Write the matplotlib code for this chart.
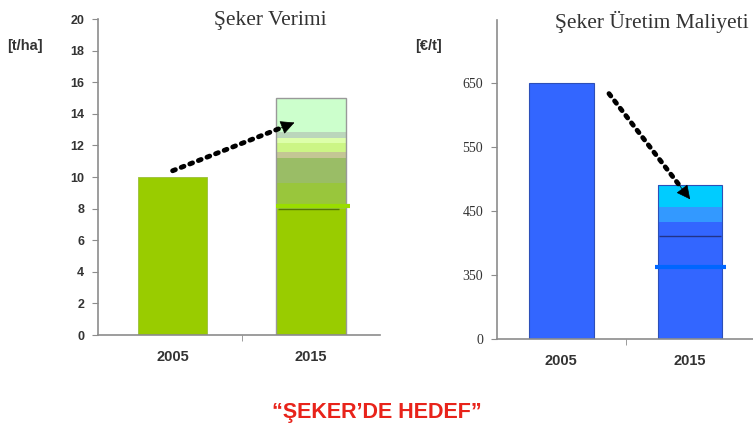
import numpy as np
import matplotlib
import matplotlib.pyplot as plt

matplotlib.use("Agg")

# Şeker verimi [t/ha]
years = ["2005", "2015"]
yield_2005 = 10.0
yield_2015_edges = [0, 8.0, 9.6, 11.2, 11.6, 12.15, 12.5, 12.85, 15.0]
yield_2015_colors = ["#99CC00", "#99C63C", "#9ABD66", "#C4C694",
                     "#CCF585", "#DDFFAA", "#BBD6BB", "#CCFFCC"]
yield_marks = [8.15, 8.0]
yield_arrow = [(0.0, 10.4), (0.88, 13.45)]
yield_ticks = list(range(0, 21, 2))

# Şeker üretim maliyeti [€/t]
cost_2005 = 650
cost_2015_edges = [0, 433, 456, 490]
cost_2015_colors = ["#3366FF", "#3399FF", "#00CCFF"]
cost_marks = [362, 410]
cost_arrow = [(0.37, 633), (1.0, 468)]
cost_ticks = [0, 350, 450, 550, 650]

SANS = "Liberation Sans"
SERIF = "Liberation Serif"
GREY = "#8c8c8c"


def fwd(v):
    v = np.asarray(v, dtype=float)
    return np.where(v >= 350, v, 250 + v * 100 / 350)


def inv(y):
    y = np.asarray(y, dtype=float)
    return np.where(y >= 350, y, (y - 250) * 3.5)


def style_axes(ax, xmin):
    for s in ("top", "right"):
        ax.spines[s].set_visible(False)
    for s in ("left", "bottom"):
        ax.spines[s].set_color(GREY)
        ax.spines[s].set_linewidth(1.2)
    ax.set_xlim(xmin, 1.5)
    ax.set_xticks([0, 1])
    ax.set_xticklabels(years, fontfamily=SANS, fontweight="bold", fontsize=10.5,
                       color="#333333")
    ax.set_xticks([0.5], minor=True)
    ax.tick_params(axis="x", which="major", length=0, pad=11)
    ax.tick_params(axis="x", which="minor", length=4, color=GREY)
    ax.tick_params(axis="y", length=4, color=GREY, pad=6)


def dotted_arrow(ax, pts):
    (x0, y0), (x1, y1) = pts
    ax.plot([x0, x0 + (x1 - x0) * 0.9], [y0, y0 + (y1 - y0) * 0.9],
            color="black", lw=3.5, linestyle=(0, (0.6, 1.3)),
            dash_capstyle="round", zorder=5)
    ax.annotate("", xy=(x1, y1),
                xytext=(x0 + (x1 - x0) * 0.85, y0 + (y1 - y0) * 0.85),
                arrowprops=dict(arrowstyle="-|>", color="black", lw=0.5,
                                mutation_scale=22, shrinkA=0, shrinkB=0),
                zorder=6)


fig = plt.figure(figsize=(7.53, 4.34), dpi=100)

# left chart
ax1 = fig.add_axes([0.130, 0.228, 0.375, 0.728])
style_axes(ax1, -0.54)
ax1.set_ylim(0, 20)
ax1.set_yticks(yield_ticks)
ax1.set_yticklabels([str(t) for t in yield_ticks], fontfamily=SANS,
                    fontweight="bold", fontsize=9, color="#333333")
ax1.bar(0, yield_2005, width=0.5, color="#99CC00", edgecolor="#9bbf3a", lw=0.6)
for i, c in enumerate(yield_2015_colors):
    lo, hi = yield_2015_edges[i], yield_2015_edges[i + 1]
    ax1.bar(1, hi - lo, bottom=lo, width=0.5, color=c, lw=0)
ax1.bar(1, yield_2015_edges[-1], width=0.5, fill=False, edgecolor="#999999",
        lw=1.0)
ax1.hlines(yield_marks[0], 0.75, 1.28, color="#99DD00", lw=3, zorder=4)
ax1.hlines(yield_marks[1], 0.76, 1.2, color="#557700", lw=1, zorder=4)
dotted_arrow(ax1, yield_arrow)
ax1.text(0.61, 0.995, "Şeker Verimi", transform=ax1.transAxes, ha="center",
         va="center", fontfamily=SERIF, fontsize=15.5, color="#333333")
fig.text(0.010, 0.895, "[t/ha]", fontfamily=SANS, fontweight="bold",
         fontsize=10.5, color="#333333", va="center")

# right chart
ax2 = fig.add_axes([0.660, 0.219, 0.342, 0.735])
ax2.set_yscale("function", functions=(fwd, inv))
style_axes(ax2, -0.5)
ax2.set_ylim(0, 748)
ax2.set_yticks(cost_ticks)
ax2.set_yticklabels([str(t) for t in cost_ticks], fontfamily=SERIF,
                    fontsize=10, color="#333333")
ax2.yaxis.set_minor_locator(matplotlib.ticker.NullLocator())
ax2.bar(0, cost_2005, width=0.5, color="#3366FF", edgecolor="#2c4fb8", lw=0.8)
for i, c in enumerate(cost_2015_colors):
    lo, hi = cost_2015_edges[i], cost_2015_edges[i + 1]
    ax2.bar(1, hi - lo, bottom=lo, width=0.5, color=c, lw=0)
ax2.bar(1, cost_2015_edges[-1], width=0.5, fill=False, edgecolor="#2c4fb8",
        lw=0.8)
ax2.hlines(cost_marks[0], 0.73, 1.28, color="#0066FF", lw=3, zorder=4)
ax2.hlines(cost_marks[1], 0.76, 1.24, color="#223388", lw=1, zorder=4)
dotted_arrow(ax2, cost_arrow)
ax2.text(0.225, 0.995, "Şeker Üretim Maliyeti", transform=ax2.transAxes,
         ha="left", va="center", fontfamily=SERIF, fontsize=15.5,
         color="#333333")
fig.text(0.551, 0.895, "[€/t]", fontfamily=SANS, fontweight="bold",
         fontsize=10.5, color="#333333", va="center")

fig.text(0.5, 0.05, "“ŞEKER’DE HEDEF”", ha="center", va="center",
         fontfamily=SANS, fontweight="bold", fontsize=15.5, color="#E8231A")

fig.savefig("out.png", dpi=100)
